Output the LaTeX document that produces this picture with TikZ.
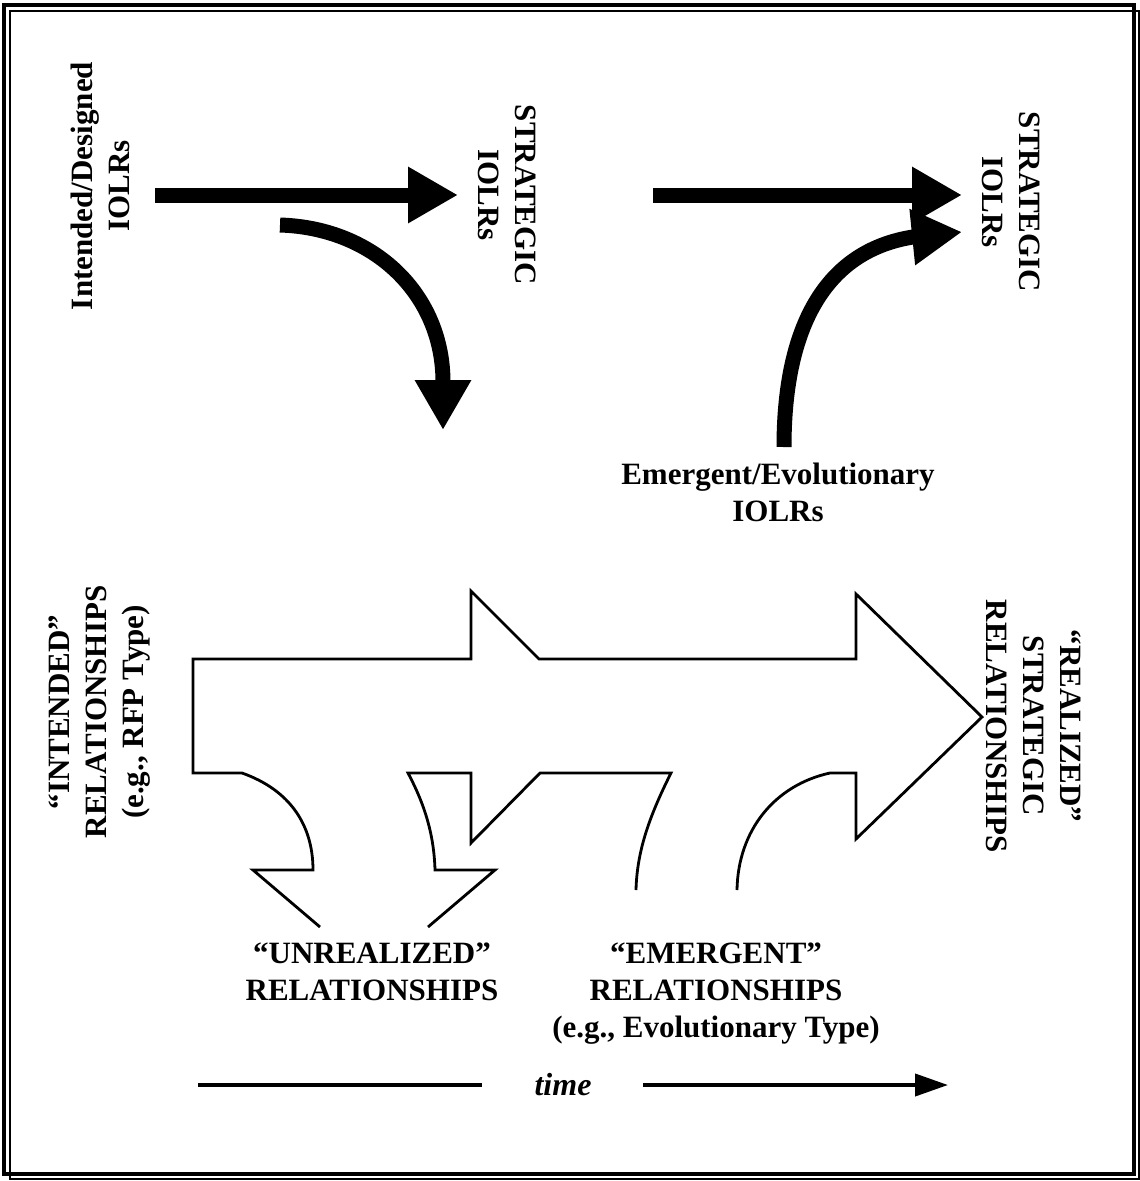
\documentclass[tikz,border=0pt]{standalone}
\usepackage{fontspec}
\setmainfont{Liberation Serif}
\usetikzlibrary{arrows.meta}
\begin{document}
\begin{tikzpicture}[x=1pt,y=-1pt,
  lbl/.style={font=\bfseries\fontsize{31}{37}\selectfont, align=center, inner sep=0pt},
  outline/.style={line width=2.8pt, line join=miter},
  heavy/.style={line width=15pt, line cap=butt, -{Triangle[length=50pt,width=53pt]}},
  timeline/.style={line width=4pt}]
\useasboundingbox (0,0) rectangle (1140,1181);

% double frame
\draw[line width=4pt] (4,5) rectangle (1134,1174);
\draw[line width=1.2pt] (10,11) rectangle (1139,1179);

% labels
\node[lbl, rotate=90] (intended) at (100,186) {Intended/Designed\\IOLRs};
\node[lbl, rotate=-90] (strat1) at (507,195) {STRATEGIC\\IOLRs};
\node[lbl, rotate=-90] (strat2) at (1011,202) {STRATEGIC\\IOLRs};
\node[lbl] (emerg) at (778,492) {Emergent/Evolutionary\\IOLRs};
\node[lbl, rotate=90] (intrel) at (100,712) {“INTENDED”\\RELATIONSHIPS\\(e.g., RFP Type)};
\node[lbl, rotate=-90] (realrel) at (1034,726) {“REALIZED”\\STRATEGIC\\RELATIONSHIPS};
\node[lbl, anchor=north] (unreal) at (372,943) {“UNREALIZED”\\RELATIONSHIPS};
\node[lbl, anchor=north] (emrel) at (716,943) {“EMERGENT”\\RELATIONSHIPS\\(e.g., Evolutionary Type)};
\node[font=\bfseries\itshape\fontsize{32}{36}\selectfont, inner sep=0pt] (time) at (563,1085) {time};

% heavy arrows of the upper panel
\coordinate (d1) at (155,195);
\coordinate (s1) at (458,195);
\coordinate (c1) at (280,225);
\coordinate (c1b) at (443,382);
\coordinate (c1t) at (443,430);
\coordinate (d2) at (653,195);
\coordinate (s2) at (962,195);
\coordinate (e2) at (784,447);
\coordinate (e2b) at (913,237);
\coordinate (e2t) at (962,232);

\draw[heavy] (d1) -- (s1);
\draw[heavy] (c1) .. controls (375,228) and (443,295) .. (c1b) -- (c1t);
\draw[heavy] (d2) -- (s2);
\draw[heavy] (e2) .. controls (784,320) and (830,250) .. (e2b) -- (e2t);

% outlined arrow of the lower panel
\draw[outline] (320,927) -- (253,870) -- (313,870)
  .. controls (313,825) and (290,790) .. (242,773)
  -- (193,773) -- (193,659) -- (471,659) -- (471,591) -- (539,659)
  -- (856,659) -- (856,594) -- (982,717) -- (856,839) -- (856,773)
  -- (830,773) .. controls (775,785) and (738,830) .. (737,890);
\draw[outline] (636,890) .. controls (637,850) and (650,815) .. (671,773)
  -- (540,773) -- (471,843) -- (471,773) -- (408,773)
  .. controls (425,805) and (434,835) .. (435,870)
  -- (495,870) -- (428,927);

% time axis
\coordinate (t0) at (198,1085);
\coordinate (t1) at (482,1085);
\coordinate (t2) at (643,1085);
\coordinate (t3) at (948,1085);
\draw[timeline] (t0) -- (t1);
\draw[timeline, -{Triangle[length=33pt,width=22pt]}] (t2) -- (t3);
\end{tikzpicture}
\end{document}
